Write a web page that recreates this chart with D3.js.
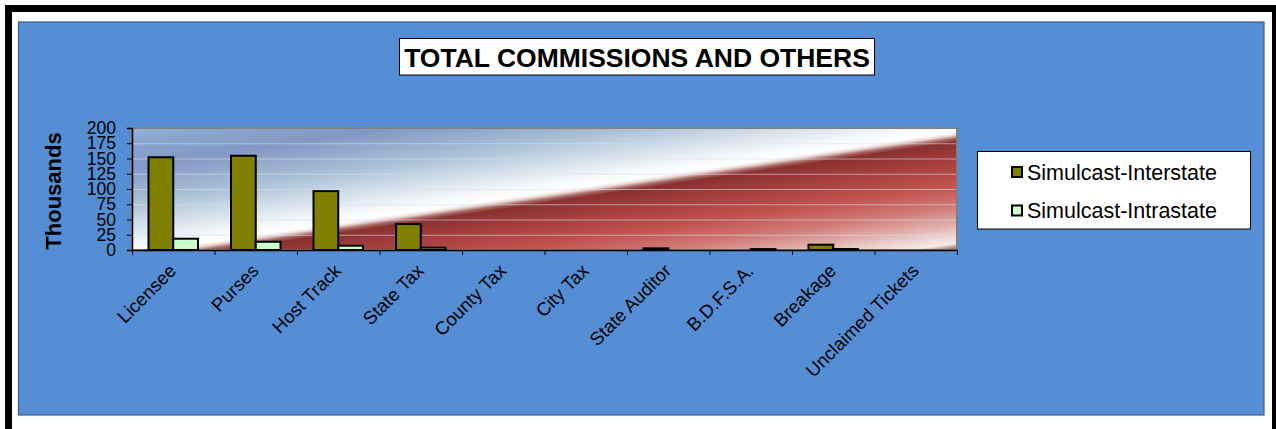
<!DOCTYPE html>
<html>
<head>
<meta charset="utf-8">
<script src="https://cdn.jsdelivr.net/npm/d3@7"></script>
<style>
  html, body { margin: 0; padding: 0; background: #ffffff; }
  svg { display: block; }
  text { font-family: "Liberation Sans", Arial, sans-serif; }
</style>
</head>
<body>
<svg id="chart" width="1276" height="429"></svg>
<script>
// ---------- data ----------
const categories = ["Licensee", "Purses", "Host Track", "State Tax", "County Tax", "City Tax",
                    "State Auditor", "B.D.F.S.A.", "Breakage", "Unclaimed Tickets"];
const seriesNames = ["Simulcast-Interstate", "Simulcast-Intrastate"];
const interstate = [152, 154.5, 96.5, 42.5, 0, 0, 2.7, 0, 8.7, 0];
const intrastate = [18.5, 13.5, 7, 3.8, 0, 0, 0, 1.5, 1.6, 0];
const yTicks = [0, 25, 50, 75, 100, 125, 150, 175, 200];
const titleText = "TOTAL COMMISSIONS AND OTHERS";
const yTitle = "Thousands";
const seriesColors = ["#808000", "#ccffcc"];

// ---------- layout ----------
const svg = d3.select("#chart");
const plot = { left: 132, right: 957, top: 128, bottom: 250 };

// outer black frame
svg.append("rect").attr("x", 8.5).attr("y", 8.5).attr("width", 1267).attr("height", 440)
  .attr("fill", "none").attr("stroke", "#000").attr("stroke-width", 7);

// blue chart area
svg.append("rect").attr("x", 18.5).attr("y", 22).attr("width", 1245.5).attr("height", 393)
  .attr("fill", "#558ed5").attr("stroke", "#3b5e8c").attr("stroke-width", 1.2);

// gradient for plot area
const defs = svg.append("defs");
const grad = defs.append("linearGradient").attr("id", "plotGrad")
  .attr("x1", 0).attr("y1", 0).attr("x2", 1).attr("y2", 1);
const stops = [
  [0.00, "#93b5db"], [0.06, "#8aa5cf"], [0.16, "#8398c4"], [0.30, "#a8bfd5"],
  [0.40, "#d3dfe9"], [0.48, "#f6f8fb"], [0.515, "#ffffff"], [0.528, "#ead6d3"],
  [0.542, "#a86a66"], [0.556, "#8a3030"], [0.63, "#a43e3d"], [0.73, "#c2524f"],
  [0.82, "#d07a76"], [0.90, "#e2b4af"], [0.95, "#f0dedb"], [0.972, "#f4eae8"],
  [0.986, "#b89a90"], [1.00, "#7f5a4a"]
];
stops.forEach(s => grad.append("stop").attr("offset", s[0]).attr("stop-color", s[1]));

svg.append("rect").attr("x", plot.left).attr("y", plot.top)
  .attr("width", plot.right - plot.left).attr("height", plot.bottom - plot.top)
  .attr("fill", "url(#plotGrad)");

// scales
const x0 = d3.scaleBand().domain(categories).range([plot.left, plot.right]).padding(0);
const bw = x0.bandwidth();
const x1 = d3.scaleBand().domain(seriesNames).range([bw * 0.2, bw * 0.8]).padding(0);
const y = d3.scaleLinear().domain([0, 200]).range([plot.bottom, plot.top]);

// gridlines
svg.append("g").selectAll("line").data(yTicks.filter(v => v > 0 && v < 200)).join("line")
  .attr("x1", plot.left).attr("x2", plot.right)
  .attr("y1", d => y(d) + 0.5).attr("y2", d => y(d) + 0.5)
  .attr("stroke", "#d6e0f2").attr("stroke-opacity", 0.6).attr("stroke-width", 1);

// plot border
svg.append("rect").attr("x", plot.left).attr("y", plot.top)
  .attr("width", plot.right - plot.left).attr("height", plot.bottom - plot.top)
  .attr("fill", "none").attr("stroke", "#808080").attr("stroke-width", 2);

// bars
const rows = categories.map((c, i) => ({ cat: c, vals: [interstate[i], intrastate[i]] }));
const groups = svg.append("g").selectAll("g").data(rows).join("g")
  .attr("transform", d => `translate(${x0(d.cat)},0)`);
groups.selectAll("rect").data(d => d.vals.map((v, j) => ({ v, s: seriesNames[j], j })))
  .join("rect")
  .filter(d => d.v > 0)
  .attr("x", d => x1(d.s))
  .attr("width", x1.bandwidth())
  .attr("y", d => y(d.v))
  .attr("height", d => y(0) - y(d.v))
  .attr("fill", d => seriesColors[d.j])
  .attr("stroke", "#000").attr("stroke-width", 2);

// y axis
const yAxis = svg.append("g").attr("transform", `translate(${plot.left},0)`)
  .call(d3.axisLeft(y).tickValues(yTicks).tickSize(5).tickPadding(11));
yAxis.select(".domain").attr("stroke", "#000").attr("stroke-width", 1.5);
yAxis.selectAll(".tick line").attr("stroke", "#000");
yAxis.selectAll(".tick text").attr("font-size", 17.5).attr("fill", "#000")
  .attr("font-family", "Liberation Sans, Arial, sans-serif");

// x axis (ticks between categories)
const xTickScale = d3.scaleLinear().domain([0, categories.length]).range([plot.left, plot.right]);
const xAxis = svg.append("g").attr("transform", `translate(0,${plot.bottom})`)
  .call(d3.axisBottom(xTickScale).ticks(categories.length).tickFormat("").tickSize(5).tickSizeOuter(0));
xAxis.select(".domain").attr("stroke", "#000").attr("stroke-width", 1.5);
xAxis.selectAll(".tick line").attr("stroke", "#000");

// category labels
svg.append("g").selectAll("text").data(categories).join("text")
  .attr("transform", d => `translate(${x0(d) + bw / 2 + 4},${plot.bottom + 22}) rotate(-45)`)
  .attr("text-anchor", "end")
  .attr("font-size", 18.5).attr("fill", "#000")
  .text(d => d);

// y title
svg.append("text").attr("transform", "translate(61,191) rotate(-90)")
  .attr("text-anchor", "middle").attr("font-weight", "bold").attr("font-size", 22)
  .attr("fill", "#000").text(yTitle);

// title
svg.append("rect").attr("x", 399.5).attr("y", 38.5).attr("width", 475).attr("height", 36.5)
  .attr("fill", "#fff").attr("stroke", "#000").attr("stroke-width", 1);
svg.append("text").attr("x", 637).attr("y", 66.5).attr("text-anchor", "middle")
  .attr("font-weight", "bold").attr("font-size", 26.5).attr("fill", "#000").text(titleText);

// legend
const lg = svg.append("g");
lg.append("rect").attr("x", 977.5).attr("y", 151.5).attr("width", 273).attr("height", 77.5)
  .attr("fill", "#fff").attr("stroke", "#000").attr("stroke-width", 1);
const items = lg.selectAll("g").data(seriesNames).join("g")
  .attr("transform", (d, i) => `translate(1012,${172 + i * 38.5})`);
items.append("rect").attr("x", 0).attr("y", -5).attr("width", 10).attr("height", 10)
  .attr("fill", (d, i) => seriesColors[i]).attr("stroke", "#000").attr("stroke-width", 2);
items.append("text").attr("x", 15).attr("y", 0).attr("dy", "0.36em")
  .attr("font-size", 21.5).attr("fill", "#000").text(d => d);
</script>
</body>
</html>
